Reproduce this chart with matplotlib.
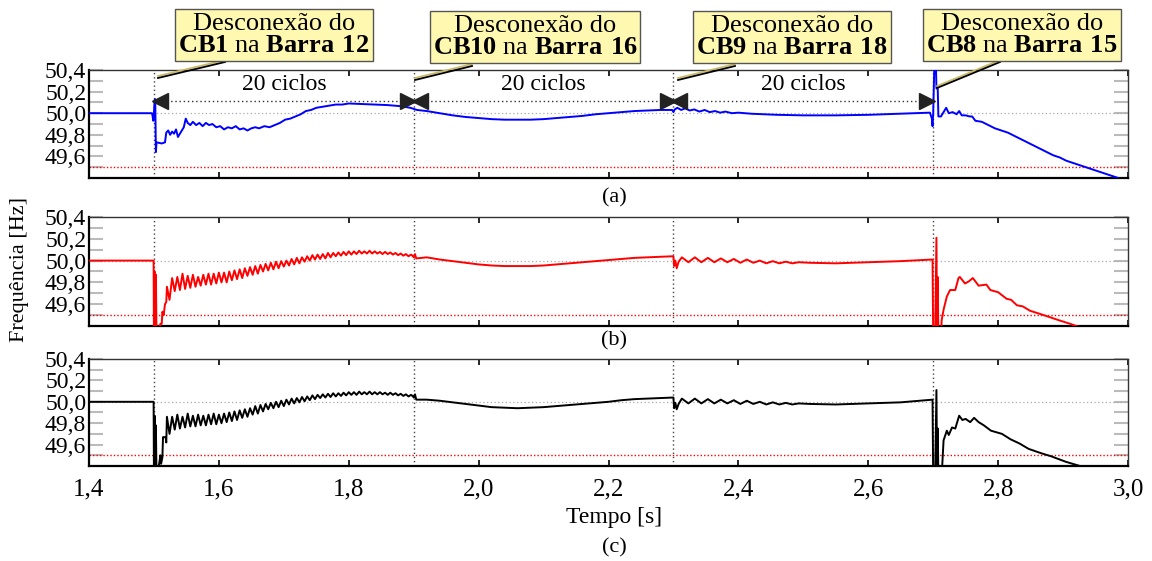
import numpy as np
import matplotlib.pyplot as plt
from matplotlib.lines import Line2D

plt.rcParams['font.family'] = ['Liberation Serif', 'DejaVu Serif']
plt.rcParams['mathtext.fontset'] = 'custom'
plt.rcParams['mathtext.rm'] = 'Liberation Serif'
plt.rcParams['mathtext.bf'] = 'Liberation Serif:bold'

# eventos (desconexões) e textos
t_eventos = [1.5, 1.9, 2.3, 2.7]
caixas = [r'Desconexão do' + '\n' + r'$\mathbf{CB1}$ na $\mathbf{Barra\ 12}$',
          r'Desconexão do' + '\n' + r'$\mathbf{CB10}$ na $\mathbf{Barra\ 16}$',
          r'Desconexão do' + '\n' + r'$\mathbf{CB9}$ na $\mathbf{Barra\ 18}$',
          r'Desconexão do' + '\n' + r'$\mathbf{CB8}$ na $\mathbf{Barra\ 15}$']
xticks = [1.4, 1.6, 1.8, 2.0, 2.2, 2.4, 2.6, 2.8, 3.0]
yticks = [49.6, 49.8, 50.0, 50.2, 50.4]

# (a) azul
t_a = [1.400, 1.497, 1.498, 1.499, 1.500, 1.501, 1.502, 1.503, 1.504, 1.512, 1.517, 1.519, 1.522, 1.525,
       1.528, 1.531, 1.534, 1.537, 1.540, 1.543, 1.546, 1.549, 1.552, 1.556, 1.560, 1.565, 1.570, 1.575,
       1.580, 1.585, 1.590, 1.596, 1.602, 1.608, 1.614, 1.620, 1.626, 1.632, 1.638, 1.644, 1.650, 1.656,
       1.662, 1.670, 1.678, 1.686, 1.694, 1.702, 1.710, 1.718, 1.726, 1.734, 1.742, 1.750, 1.760, 1.770,
       1.780, 1.790, 1.800, 1.820, 1.840, 1.860, 1.880, 1.895, 1.905, 1.920, 1.940, 1.960, 1.980, 2.000,
       2.020, 2.040, 2.060, 2.080, 2.100, 2.120, 2.140, 2.160, 2.180, 2.200, 2.220, 2.240, 2.260, 2.280,
       2.298, 2.300, 2.302, 2.306, 2.312, 2.318, 2.325, 2.332, 2.340, 2.348, 2.356, 2.364, 2.372, 2.380,
       2.390, 2.400, 2.420, 2.440, 2.460, 2.500, 2.550, 2.600, 2.650, 2.695, 2.698, 2.699, 2.700, 2.702,
       2.704, 2.705, 2.707, 2.708, 2.712, 2.716, 2.720, 2.724, 2.730, 2.736, 2.740, 2.744, 2.750, 2.756,
       2.760, 2.765, 2.775, 2.785, 2.795, 2.805, 2.815, 2.825, 2.835, 2.845, 2.855, 2.865, 2.875, 2.885,
       2.895, 2.905, 2.915, 2.925, 2.935, 2.945, 2.955, 2.965, 2.975, 2.985]
f_a = [50.00, 50.00, 49.97, 49.93, 50.00, 50.12, 50.13, 49.64, 49.73, 49.72, 49.73, 49.82, 49.84, 49.80,
       49.83, 49.81, 49.85, 49.78, 49.81, 49.84, 49.87, 49.95, 49.91, 49.89, 49.92, 49.89, 49.91, 49.88,
       49.91, 49.89, 49.90, 49.87, 49.88, 49.85, 49.87, 49.86, 49.88, 49.85, 49.86, 49.84, 49.86, 49.87,
       49.86, 49.88, 49.87, 49.89, 49.91, 49.94, 49.95, 49.97, 49.99, 50.02, 50.03, 50.05, 50.06, 50.07,
       50.08, 50.08, 50.09, 50.085, 50.08, 50.075, 50.065, 50.05, 50.03, 50.02, 50.00, 49.98, 49.965, 49.955,
       49.945, 49.94, 49.94, 49.94, 49.945, 49.955, 49.965, 49.975, 49.99, 50.00, 50.01, 50.02, 50.025, 50.03,
       50.03, 50.01, 50.035, 50.05, 50.03, 50.045, 50.025, 50.035, 50.015, 50.03, 50.01, 50.02, 50.005, 50.015,
       50.00, 50.005, 49.995, 49.99, 49.985, 49.98, 49.98, 49.985, 49.995, 50.005, 49.95, 49.88, 50.00, 50.50,
       50.50, 50.23, 50.23, 49.97, 49.97, 50.01, 50.05, 50.00, 50.01, 49.99, 50.02, 49.98, 49.98, 49.97,
       49.97, 49.93, 49.92, 49.89, 49.86, 49.84, 49.82, 49.79, 49.76, 49.73, 49.70, 49.67, 49.64, 49.61,
       49.59, 49.56, 49.54, 49.52, 49.50, 49.48, 49.46, 49.44, 49.42, 49.40]

# (b) vermelho: trechos
t_b_ini = [1.400, 1.4995, 1.500, 1.501, 1.502, 1.503, 1.504, 1.510, 1.512, 1.513, 1.515, 1.517, 1.519]
f_b_ini = [50.00, 50.00, 49.30, 49.90, 49.30, 49.87, 49.30, 49.42, 49.42, 49.53, 49.50, 49.60, 49.62]
t_zig = [1.520, 1.528, 1.536, 1.544, 1.552, 1.560, 1.568, 1.576, 1.584, 1.592, 1.600, 1.608,
         1.616, 1.624, 1.632, 1.640, 1.648, 1.656, 1.664, 1.672, 1.680, 1.688, 1.696, 1.704,
         1.712, 1.720, 1.728, 1.736, 1.744, 1.752, 1.760, 1.768, 1.776, 1.784, 1.792, 1.800,
         1.808, 1.816, 1.824, 1.832, 1.840, 1.848, 1.856, 1.864, 1.872, 1.880, 1.888, 1.896]
f_b_max = [49.76, 49.84, 49.85, 49.88, 49.86, 49.87, 49.85, 49.87, 49.88, 49.88, 49.89, 49.89,
           49.90, 49.91, 49.92, 49.93, 49.94, 49.95, 49.96, 49.97, 49.98, 49.99, 49.995, 50.00,
           50.015, 50.025, 50.03, 50.04, 50.05, 50.055, 50.06, 50.07, 50.07, 50.075, 50.08, 50.085,
           50.085, 50.09, 50.085, 50.09, 50.085, 50.08, 50.08, 50.075, 50.07, 50.065, 50.06, 50.055]
f_b_min = [49.64, 49.72, 49.73, 49.74, 49.75, 49.76, 49.77, 49.78, 49.78, 49.79, 49.80, 49.80,
           49.82, 49.83, 49.84, 49.86, 49.87, 49.88, 49.90, 49.91, 49.92, 49.93, 49.945, 49.955,
           49.965, 49.975, 49.99, 50.00, 50.01, 50.015, 50.02, 50.03, 50.04, 50.045, 50.05, 50.055,
           50.06, 50.065, 50.065, 50.065, 50.065, 50.06, 50.06, 50.055, 50.05, 50.045, 50.04, 50.035]
t_meio = [1.900, 1.902, 1.904, 1.920, 1.940, 1.960, 1.980, 2.000, 2.020, 2.040, 2.060, 2.080, 2.100,
          2.120, 2.140, 2.160, 2.180, 2.200, 2.220, 2.240, 2.260, 2.280, 2.298,
          2.300, 2.301, 2.303, 2.305, 2.308, 2.313, 2.323, 2.333, 2.343, 2.353, 2.363, 2.373, 2.383,
          2.393, 2.403, 2.413, 2.423, 2.433, 2.443, 2.453, 2.463, 2.473, 2.483, 2.493, 2.510, 2.550,
          2.600, 2.650, 2.699]
f_b_meio = [50.03, 50.06, 50.02, 50.03, 50.01, 49.995, 49.98, 49.965, 49.955, 49.95, 49.95, 49.95, 49.955,
            49.965, 49.975, 49.985, 49.995, 50.005, 50.015, 50.025, 50.03, 50.035, 50.04,
            50.04, 49.95, 50.00, 49.93, 49.99, 50.03, 49.985, 50.03, 49.985, 50.025, 49.985, 50.02, 49.985,
            50.015, 49.98, 50.01, 49.98, 50.00, 49.975, 49.995, 49.975, 49.99, 49.975, 49.985, 49.98, 49.975,
            49.985, 49.995, 50.01]
t_b_fim = [2.700, 2.703, 2.705, 2.706, 2.707, 2.708, 2.712, 2.713, 2.716, 2.721, 2.726, 2.734, 2.739,
           2.741, 2.749, 2.755, 2.761, 2.770, 2.782, 2.788, 2.800, 2.813, 2.820, 2.829, 2.838, 2.849,
           2.865, 2.875, 2.895, 2.911, 2.925, 2.940]
f_b_fim = [49.30, 49.30, 50.21, 49.30, 49.85, 49.30, 49.30, 49.45, 49.55, 49.67, 49.73, 49.73, 49.84,
           49.85, 49.79, 49.81, 49.84, 49.77, 49.78, 49.73, 49.71, 49.65, 49.64, 49.59, 49.58, 49.54,
           49.51, 49.49, 49.45, 49.42, 49.39, 49.36]

# (c) preto
t_c_ini = [1.400, 1.4995, 1.500, 1.501, 1.502, 1.503, 1.504, 1.508, 1.510, 1.511, 1.513, 1.514, 1.518, 1.519]
f_c_ini = [50.00, 50.00, 49.30, 49.87, 49.30, 49.78, 49.30, 49.42, 49.50, 49.42, 49.48, 49.67, 49.67, 49.62]
f_c_max = [49.86, 49.86, 49.88, 49.86, 49.89, 49.87, 49.88, 49.87, 49.88, 49.89, 49.88, 49.89,
           49.90, 49.91, 49.92, 49.93, 49.94, 49.96, 49.97, 49.98, 49.99, 50.00, 50.01, 50.02,
           50.03, 50.035, 50.045, 50.05, 50.06, 50.065, 50.07, 50.075, 50.08, 50.08, 50.085, 50.09,
           50.09, 50.095, 50.09, 50.095, 50.09, 50.09, 50.085, 50.085, 50.08, 50.075, 50.07, 50.065]
f_c_min = [49.70, 49.74, 49.75, 49.76, 49.77, 49.77, 49.78, 49.78, 49.79, 49.79, 49.80, 49.81,
           49.82, 49.83, 49.85, 49.86, 49.88, 49.89, 49.91, 49.93, 49.94, 49.95, 49.96, 49.975,
           49.985, 49.995, 50.005, 50.015, 50.025, 50.035, 50.04, 50.045, 50.05, 50.055, 50.06, 50.065,
           50.065, 50.07, 50.07, 50.07, 50.07, 50.07, 50.065, 50.065, 50.06, 50.055, 50.05, 50.045]
f_c_meio = [50.04, 50.07, 50.02, 50.02, 50.01, 49.995, 49.98, 49.965, 49.95, 49.945, 49.94, 49.945, 49.95,
            49.96, 49.97, 49.98, 49.99, 50.00, 50.015, 50.025, 50.03, 50.035, 50.04,
            50.04, 49.94, 49.99, 49.93, 49.98, 50.03, 49.985, 50.03, 49.985, 50.025, 49.985, 50.02, 49.985,
            50.015, 49.98, 50.01, 49.98, 50.00, 49.975, 49.995, 49.975, 49.99, 49.975, 49.985, 49.98, 49.975,
            49.985, 49.995, 50.02]
t_c_fim = [2.700, 2.703, 2.705, 2.706, 2.707, 2.708, 2.713, 2.716, 2.721, 2.724, 2.729, 2.734, 2.740,
           2.745, 2.750, 2.757, 2.763, 2.770, 2.778, 2.789, 2.806, 2.819, 2.833, 2.847, 2.866, 2.882,
           2.904, 2.926, 2.940]
f_c_fim = [49.30, 49.30, 50.11, 49.30, 49.75, 49.30, 49.30, 49.64, 49.73, 49.69, 49.76, 49.75, 49.87,
           49.83, 49.84, 49.81, 49.85, 49.81, 49.78, 49.73, 49.70, 49.65, 49.61, 49.56, 49.52, 49.49,
           49.44, 49.40, 49.37]


def zigue(t, fmax, fmin):
    """intercala os valores máximos e mínimos lidos (dente de serra)"""
    tt = np.column_stack([t, np.array(t) + 0.004]).ravel()
    ff = np.column_stack([fmax, fmin]).ravel()
    return tt, ff


tz, fz_b = zigue(t_zig, f_b_max, f_b_min)
_, fz_c = zigue(t_zig, f_c_max, f_c_min)
t_b = np.concatenate([t_b_ini, tz, t_meio, t_b_fim])
f_b = np.concatenate([f_b_ini, fz_b, f_b_meio, f_b_fim])
t_c = np.concatenate([t_c_ini, tz, t_meio, t_c_fim])
f_c = np.concatenate([f_c_ini, fz_c, f_c_meio, f_c_fim])

W, H = 1152, 561
fig = plt.figure(figsize=(W / 100, H / 100), dpi=100)
pos = [(70, 178), (217, 326), (359, 466)]
axes = []
for top, bot in pos:
    axes.append(fig.add_axes([89 / W, 1 - bot / H, (1128 - 89) / W, (bot - top) / H]))

series = [(t_a, f_a, '#0000ff'), (t_b, f_b, '#ff0000'), (t_c, f_c, 'black')]
for ax, (t, f, cor) in zip(axes, series):
    ax.plot(t, f, color=cor, lw=1.4, zorder=3)
    ax.axhline(50.0, color='#aaaaaa', ls=(0, (1, 2)), lw=0.9)
    ax.axhline(49.5, color='#ff0000', ls=(0, (1, 1.5)), lw=1.0)
    for te in t_eventos:
        ax.axvline(te, color='#444444', ls=(0, (1, 2)), lw=1.0)
    ax.set_xlim(1.4, 3.0)
    ax.set_ylim(49.4, 50.4)
    ax.set_xticks(xticks)
    ax.set_yticks(yticks)
    ax.set_yticks(np.arange(49.5, 50.35, 0.1), minor=True)
    ax.set_yticklabels([('%.1f' % v).replace('.', ',') for v in yticks], fontsize=17)
    ax.tick_params(axis='x', direction='in', top=True, length=4, width=1.2, color='black',
                   labelsize=18, pad=9)
    ax.tick_params(axis='y', which='both', direction='in', right=True, length=10, width=1.5,
                   color='#bbbbbb', pad=2)
    for s in ['top', 'right']:
        ax.spines[s].set_linewidth(1.0)
        ax.spines[s].set_color('#333333')
    for s in ['left', 'bottom']:
        ax.spines[s].set_linewidth(1.6)
    if ax is not axes[2]:
        ax.set_xticklabels([])
    else:
        ax.set_xticklabels([('%.1f' % v).replace('.', ',') for v in xticks])

# setas de 20 ciclos em (a)
ax = axes[0]
ya = 50.11
for t0, t1 in zip(t_eventos[:-1], t_eventos[1:]):
    ax.plot([t0, t1], [ya, ya], color='#333333', ls=(0, (1, 2)), lw=1.0, zorder=4)
    ax.plot(t0 + 0.009, ya, marker='<', color='#222222', ms=11, zorder=5)
    ax.plot(t1 - 0.009, ya, marker='>', color='#222222', ms=11, zorder=5)
    ax.text((t0 + t1) / 2, 50.27, '20 ciclos', ha='center', va='center', fontsize=17)

# caixas de anotação e linhas de chamada (pixels da figura)
centros = [(274, 35), (535, 37), (792, 37), (1022, 35)]
chamadas = [((225, 62), (158, 78)), ((472, 66), (415, 80)), ((735, 66), (678, 80)), ((1000, 62), (937, 88))]
for txt, (cx, cy), ((x0, y0), (x1, y1)) in zip(caixas, centros, chamadas):
    fig.add_artist(Line2D([x0 / W, x1 / W], [1 - (y0 - 2) / H, 1 - (y1 - 2) / H], color='#c8b860', lw=1.2))
    fig.add_artist(Line2D([x0 / W, x1 / W], [1 - y0 / H, 1 - y1 / H], color='black', lw=1.3))
    fig.text(cx / W, 1 - cy / H, txt, ha='center', va='center', fontsize=19, linespacing=1.05,
             bbox=dict(boxstyle='square,pad=0.12', facecolor='#fff8b0', edgecolor='#555555', lw=1.0))

fig.text(614 / W, 1 - 198 / H, '(a)', ha='center', va='center', fontsize=16)
fig.text(614 / W, 1 - 341 / H, '(b)', ha='center', va='center', fontsize=16)
fig.text(614 / W, 1 - 517 / H, 'Tempo [s]', ha='center', va='center', fontsize=17)
fig.text(614 / W, 1 - 548 / H, '(c)', ha='center', va='center', fontsize=16)
fig.text(20 / W, 1 - 270 / H, 'Frequência [Hz]', ha='center', va='center', rotation=90, fontsize=16)

fig.savefig('out.png', dpi=100)
